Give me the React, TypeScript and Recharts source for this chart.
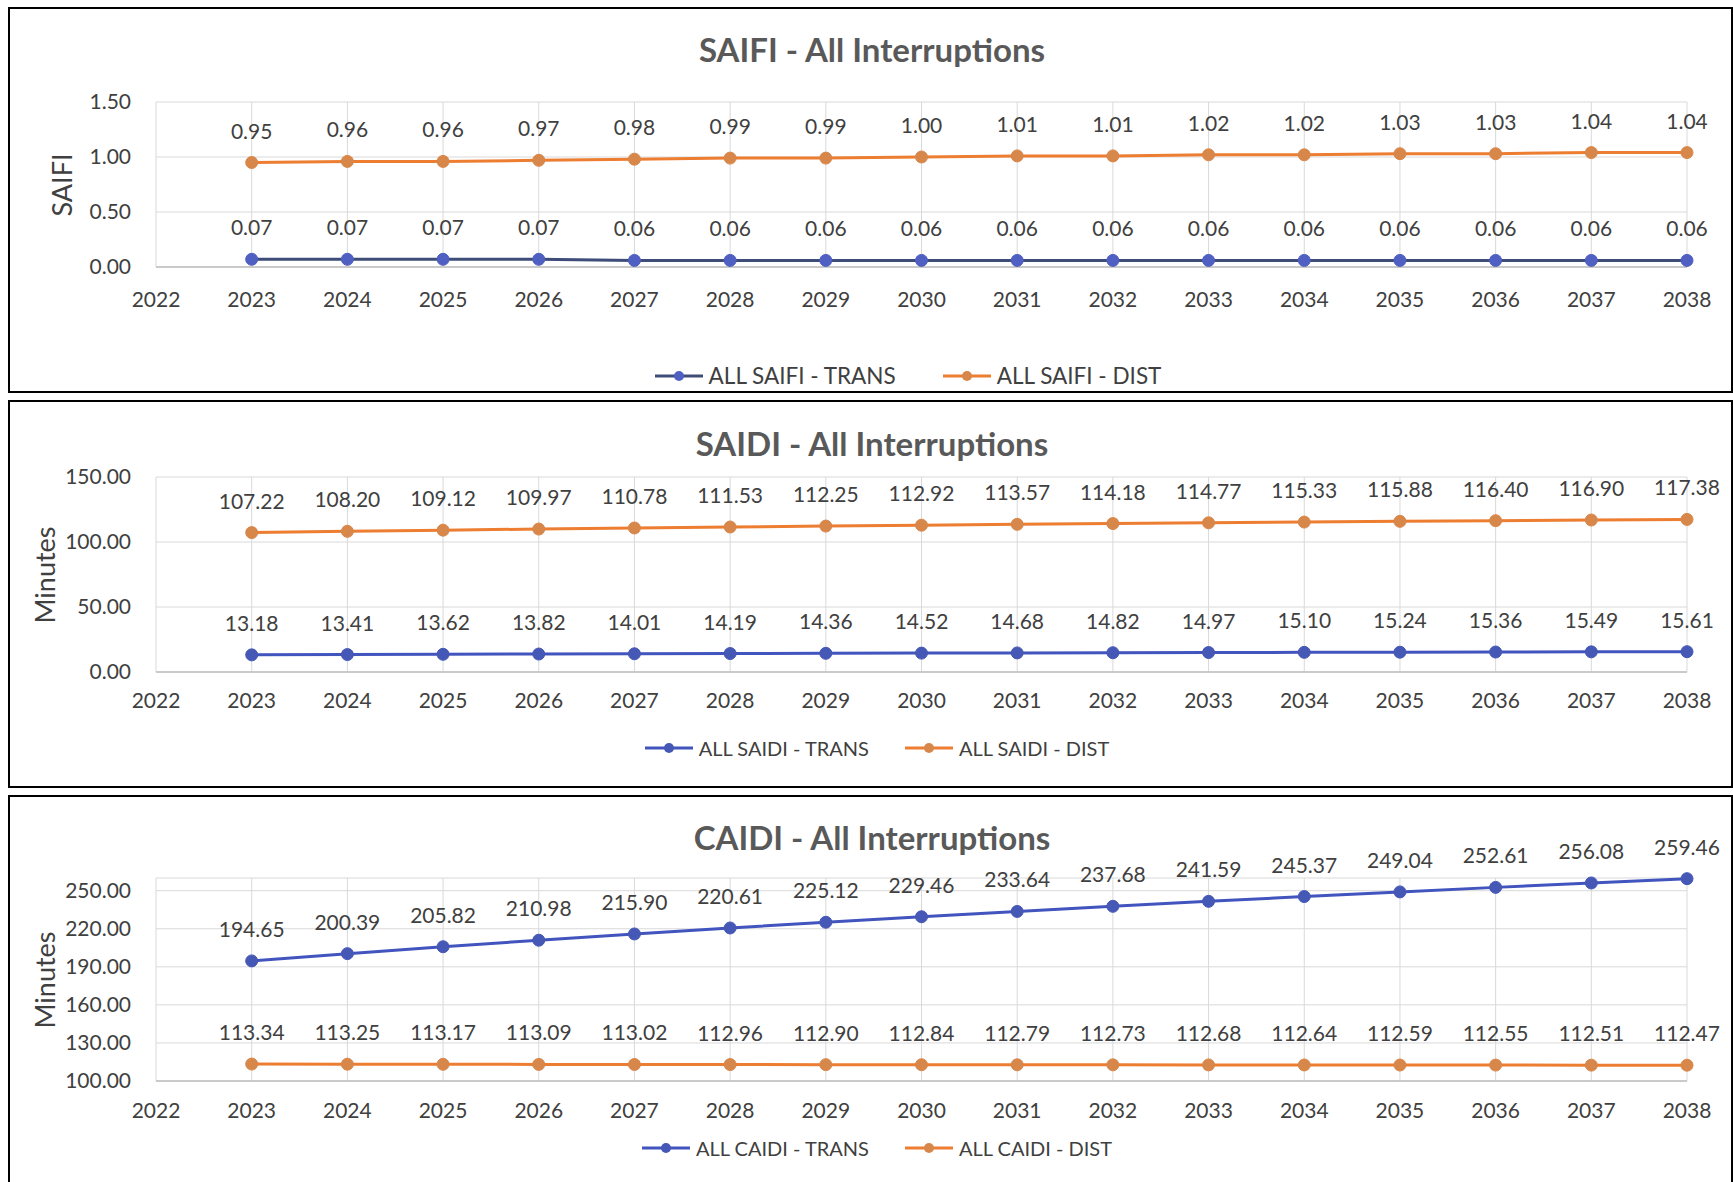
import React from 'react';
import { LineChart, Line, XAxis, YAxis, CartesianGrid, LabelList, Legend } from 'recharts';

// Forecast years and axis ticks
const years = [2023, 2024, 2025, 2026, 2027, 2028, 2029, 2030, 2031, 2032, 2033, 2034, 2035, 2036, 2037, 2038];
const xTicks = [2022, 2023, 2024, 2025, 2026, 2027, 2028, 2029, 2030, 2031, 2032, 2033, 2034, 2035, 2036, 2037, 2038];

// SAIFI (interruptions per customer)
const saifiTrans = [0.07, 0.07, 0.07, 0.07, 0.06, 0.06, 0.06, 0.06, 0.06, 0.06, 0.06, 0.06, 0.06, 0.06, 0.06, 0.06];
const saifiDist = [0.95, 0.96, 0.96, 0.97, 0.98, 0.99, 0.99, 1.0, 1.01, 1.01, 1.02, 1.02, 1.03, 1.03, 1.04, 1.04];
const saifiTicks = [0, 0.5, 1.0, 1.5];

// SAIDI (minutes)
const saidiTrans = [13.18, 13.41, 13.62, 13.82, 14.01, 14.19, 14.36, 14.52, 14.68, 14.82, 14.97, 15.1, 15.24, 15.36, 15.49, 15.61];
const saidiDist = [107.22, 108.2, 109.12, 109.97, 110.78, 111.53, 112.25, 112.92, 113.57, 114.18, 114.77, 115.33, 115.88, 116.4, 116.9, 117.38];
const saidiTicks = [0, 50, 100, 150];

// CAIDI (minutes)
const caidiTrans = [194.65, 200.39, 205.82, 210.98, 215.9, 220.61, 225.12, 229.46, 233.64, 237.68, 241.59, 245.37, 249.04, 252.61, 256.08, 259.46];
const caidiDist = [113.34, 113.25, 113.17, 113.09, 113.02, 112.96, 112.9, 112.84, 112.79, 112.73, 112.68, 112.64, 112.59, 112.55, 112.51, 112.47];
const caidiTicks = [100, 130, 160, 190, 220, 250];

const FONT = "Lato, 'Liberation Sans', sans-serif";
const TEXT = '#404040';
const ORANGE = '#ED7D31';
const ORANGE_DOT = '#D8874A';

const rows = (trans: number[], dist: number[]) =>
  years.map((year, i) => ({ year, trans: trans[i], dist: dist[i] }));

type PanelProps = {
  top: number;
  height: number;
  title: string;
  titleY: number;
  yLabel: string;
  yLabelX: number;
  trans: number[];
  dist: number[];
  domain: [number, number];
  ticks: number[];
  plotTop: number;
  plotBottom: number;
  tickGap: number;
  legendY: number;
  legendShift: number;
  legendGap: number;
  legendFont: number;
  transName: string;
  distName: string;
  transLine: string;
  transDot: string;
};

const fmt = (v: any) => Number(v).toFixed(2);

function LegendKey({ color, dot, label, size }: { color: string; dot: string; label: string; size: number }) {
  return (
    <div style={{ display: 'flex', alignItems: 'center' }}>
      <svg width={48} height={20}>
        <line x1={0} y1={10} x2={48} y2={10} stroke={color} strokeWidth={3} />
        <circle cx={24} cy={10} r={5} fill={dot} />
      </svg>
      <span style={{ marginLeft: 6, fontSize: size, color: TEXT, whiteSpace: 'nowrap' }}>{label}</span>
    </div>
  );
}

function Panel(p: PanelProps) {
  const data = rows(p.trans, p.dist);
  const xAxisH = 40;
  const margin = {
    top: p.plotTop - p.top,
    right: 1733 - 1687,
    left: 96,
    bottom: p.top + p.height - p.plotBottom - xAxisH,
  };
  const label = (
    <LabelList
      position="top"
      offset={24}
      fill={TEXT}
      fontSize={21}
      formatter={fmt}
    />
  );
  return (
    <>
      <div
        style={{
          position: 'absolute',
          left: 8,
          top: p.top,
          width: 1725,
          height: p.height,
          boxSizing: 'border-box',
          border: '2px solid #000',
          background: '#fff',
        }}
      />
      <div
        style={{
          position: 'absolute',
          left: 0,
          top: p.titleY - 20,
          width: 1733,
          paddingLeft: 11,
          boxSizing: 'border-box',
          textAlign: 'center',
          fontSize: 33,
          lineHeight: '40px',
          fontWeight: 700,
          color: '#595959',
        }}
      >
        {p.title}
      </div>
      <div
        style={{
          position: 'absolute',
          left: p.yLabelX,
          top: (p.plotTop + p.plotBottom) / 2,
          transform: 'translate(-50%, -50%) rotate(-90deg)',
          fontSize: 27,
          color: TEXT,
          whiteSpace: 'nowrap',
        }}
      >
        {p.yLabel}
      </div>
      <div style={{ position: 'absolute', left: 0, top: p.top }}>
        <LineChart width={1733} height={p.height} data={data} margin={margin}>
          <CartesianGrid stroke="#d9d9d9" strokeWidth={1} />
          <XAxis
            dataKey="year"
            type="number"
            domain={[2022, 2038]}
            ticks={xTicks}
            interval={0}
            allowDecimals={false}
            height={xAxisH}
            axisLine={{ stroke: '#bfbfbf', strokeWidth: 1.5 }}
            tickLine={false}
            tickSize={0}
            tickMargin={p.tickGap}
            tick={{ fill: TEXT, fontSize: 21 }}
          />
          <YAxis
            type="number"
            domain={p.domain}
            ticks={p.ticks}
            interval={0}
            width={60}
            axisLine={false}
            tickLine={false}
            tickSize={0}
            tickMargin={25}
            tickFormatter={fmt}
            tick={{ fill: TEXT, fontSize: 21 }}
          />
          <Legend
            verticalAlign="middle"
            align="center"
            layout="horizontal"
            wrapperStyle={{ top: p.legendY - p.top - 12, left: 0, width: 1733, bottom: 'auto', height: 24 }}
            content={() => (
              <div
                style={{
                  display: 'flex',
                  justifyContent: 'center',
                  gap: p.legendGap,
                  paddingLeft: p.legendShift,
                  boxSizing: 'border-box',
                  width: 1733,
                  fontFamily: FONT,
                }}
              >
                <LegendKey color={p.transLine} dot={p.transDot} label={p.transName} size={p.legendFont} />
                <LegendKey color={ORANGE} dot={ORANGE_DOT} label={p.distName} size={p.legendFont} />
              </div>
            )}
          />
          <Line
            type="linear"
            dataKey="trans"
            name={p.transName}
            stroke={p.transLine}
            strokeWidth={3}
            dot={{ r: 6, fill: p.transDot, stroke: p.transDot, strokeWidth: 1 }}
            activeDot={false}
            isAnimationActive={false}
          >
            {label}
          </Line>
          <Line
            type="linear"
            dataKey="dist"
            name={p.distName}
            stroke={ORANGE}
            strokeWidth={3}
            dot={{ r: 6, fill: ORANGE_DOT, stroke: ORANGE_DOT, strokeWidth: 1 }}
            activeDot={false}
            isAnimationActive={false}
          >
            {label}
          </Line>
        </LineChart>
      </div>
    </>
  );
}

export default function App() {
  return (
    <div
      style={{
        position: 'absolute',
        left: 0,
        top: 0,
        width: 1733,
        height: 1182,
        overflow: 'hidden',
        background: '#fff',
        fontFamily: FONT,
      }}
    >
      <Panel
        top={7}
        height={386}
        title="SAIFI - All Interruptions"
        titleY={49}
        yLabel="SAIFI"
        yLabelX={61}
        trans={saifiTrans}
        dist={saifiDist}
        domain={[0, 1.5]}
        ticks={saifiTicks}
        plotTop={102}
        plotBottom={267}
        tickGap={25}
        legendY={374}
        legendShift={83}
        legendGap={47}
        legendFont={22.5}
        transName="ALL SAIFI - TRANS"
        distName="ALL SAIFI - DIST"
        transLine="#3E4C78"
        transDot="#4F5FC2"
      />
      <Panel
        top={400}
        height={388}
        title="SAIDI - All Interruptions"
        titleY={443}
        yLabel="Minutes"
        yLabelX={44}
        trans={saidiTrans}
        dist={saidiDist}
        domain={[0, 150]}
        ticks={saidiTicks}
        plotTop={477}
        plotBottom={672}
        tickGap={21}
        legendY={748}
        legendShift={21}
        legendGap={36}
        legendFont={20}
        transName="ALL SAIDI - TRANS"
        distName="ALL SAIDI - DIST"
        transLine="#4254BE"
        transDot="#4558B5"
      />
      <Panel
        top={795}
        height={400}
        title="CAIDI - All Interruptions"
        titleY={837}
        yLabel="Minutes"
        yLabelX={44}
        trans={caidiTrans}
        dist={caidiDist}
        domain={[100, 260]}
        ticks={caidiTicks}
        plotTop={878}
        plotBottom={1081}
        tickGap={22}
        legendY={1148}
        legendShift={21}
        legendGap={36}
        legendFont={20}
        transName="ALL CAIDI - TRANS"
        distName="ALL CAIDI - DIST"
        transLine="#4254BE"
        transDot="#4558B5"
      />
    </div>
  );
}
